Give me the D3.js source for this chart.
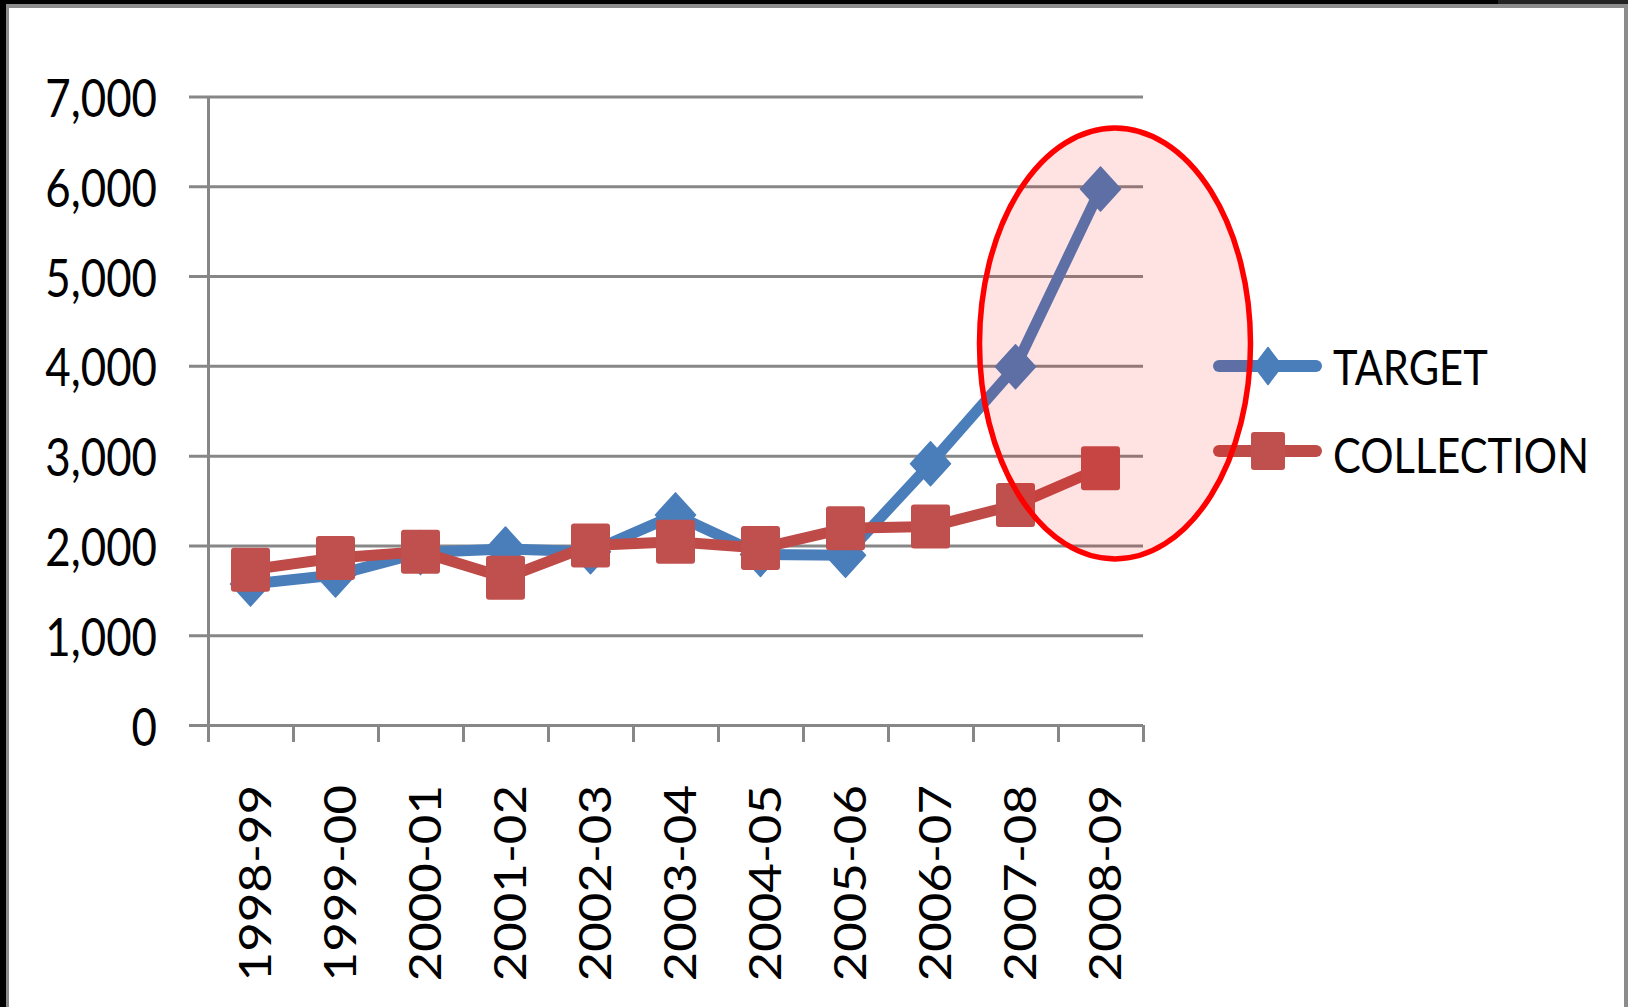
<!DOCTYPE html>
<html>
<head>
<meta charset="utf-8">
<script src="https://cdn.jsdelivr.net/npm/d3@7"></script>
<style>
  html, body { margin: 0; padding: 0; background: #000; }
  svg { display: block; }
  text { font-family: Lato, "Open Sans", sans-serif; fill: #000; }
</style>
</head>
<body>
<svg id="chart" width="1628" height="1007"></svg>
<script>
// Fiscal years on the category axis
const categories = ["1998-99", "1999-00", "2000-01", "2001-02", "2002-03", "2003-04",
                    "2004-05", "2005-06", "2006-07", "2007-08", "2008-09"];
// Series values
const target     = [1570, 1670, 1920, 1960, 1930, 2340, 1900, 1890, 2910, 3990, 5970];
const collection = [1730, 1860, 1930, 1640, 2000, 2040, 1970, 2190, 2210, 2450, 2860];
// Value axis ticks
const yTicks = [0, 1000, 2000, 3000, 4000, 5000, 6000, 7000];
const seriesNames = ["TARGET", "COLLECTION"];

const W = 1628, H = 1007;
const plot = { left: 208, right: 1143, top: 96.5, bottom: 725 };
const gridColor = "#878787";
const blue = "#4A7EBB", red = "#BE4B48";
const squish = 0.85; // horizontal text compression

const svg = d3.select("#chart");

// Frame: dark edges with a grey rule, white page
svg.append("rect").attr("x", 0).attr("y", 0).attr("width", W).attr("height", H).attr("fill", "#000");
svg.append("rect").attr("x", 1498).attr("y", 0).attr("width", W - 1498).attr("height", 5).attr("fill", "#232323");
svg.append("rect").attr("x", 6).attr("y", 4).attr("width", W - 6).attr("height", H - 4).attr("fill", "#8c8c8c");
svg.append("rect").attr("x", 9).attr("y", 8).attr("width", 1624 - 9).attr("height", H - 8).attr("fill", "#fff");

// Scales
const x = d3.scaleBand().domain(categories).range([plot.left, plot.right]).padding(0);
const xEdge = d3.scaleLinear().domain([0, categories.length]).range([plot.left, plot.right]);
const y = d3.scaleLinear().domain([0, 7000]).range([plot.bottom, plot.top]);
const xc = d => x(d) + x.bandwidth() / 2;

// Horizontal gridlines (extend slightly left of the value axis)
const gridG = svg.append("g").attr("transform", `translate(${plot.left - 19},0)`)
  .call(d3.axisRight(y).tickValues(yTicks).tickSize(plot.right - plot.left + 19).tickFormat(""));
gridG.select(".domain").remove();
gridG.selectAll("line").attr("stroke", gridColor).attr("stroke-width", 3);

// Value axis with labels
const yAxisG = svg.append("g").attr("transform", `translate(${plot.left},0)`)
  .call(d3.axisLeft(y).tickValues(yTicks).tickSize(0).tickSizeOuter(0).tickFormat(d3.format(",")));
yAxisG.select(".domain").attr("stroke", gridColor).attr("stroke-width", 3);
yAxisG.selectAll("text")
  .attr("x", 0).attr("dy", null).attr("y", 0)
  .attr("font-size", 51.6)
  .attr("font-family", "Lato")
  .attr("transform", `translate(-51,20) scale(${squish},1)`);

// Category boundary ticks
const tickG = svg.append("g").attr("transform", `translate(0,${plot.bottom})`)
  .call(d3.axisBottom(xEdge).tickValues(d3.range(categories.length + 1)).tickSize(17).tickSizeOuter(0).tickFormat(""));
tickG.select(".domain").remove();
tickG.selectAll("line").attr("stroke", gridColor).attr("stroke-width", 3);

// Rotated category labels
const xAxisG = svg.append("g").attr("transform", `translate(0,${plot.bottom})`)
  .call(d3.axisBottom(x).tickSize(0).tickPadding(0));
xAxisG.select(".domain").remove();
xAxisG.selectAll("text")
  .attr("y", 0).attr("x", 0).attr("dy", null)
  .attr("text-anchor", "end")
  .attr("font-size", 51)
  .attr("font-family", "Lato")
  .attr("transform", "translate(20,60) rotate(-90) scale(1,0.87)");

// Marker shapes
function diamondPath(hw, hh) {
  return `M0,${-hh}L${hw},0L0,${hh}L${-hw},0Z`;
}
function drawDiamond(g, cx, cy, hw, hh, color) {
  g.append("path").attr("d", diamondPath(hw, hh))
    .attr("transform", `translate(${cx},${cy})`)
    .attr("fill", color).attr("stroke", color).attr("stroke-width", 1.5).attr("stroke-linejoin", "round");
}
function drawSquare(g, cx, cy, w, h, color) {
  g.append("rect").attr("x", cx - w / 2).attr("y", cy - h / 2).attr("width", w).attr("height", h)
    .attr("rx", 3).attr("fill", color);
}

const line = d3.line().x(d => xc(d.cat)).y(d => y(d.v));
const seriesData = [
  { name: seriesNames[0], color: blue, marker: "diamond", values: categories.map((c, i) => ({ cat: c, v: target[i] })) },
  { name: seriesNames[1], color: red, marker: "square", values: categories.map((c, i) => ({ cat: c, v: collection[i] })) }
];

const plotG = svg.append("g");
seriesData.forEach(s => {
  const g = plotG.append("g");
  g.append("path").datum(s.values).attr("d", line)
    .attr("fill", "none").attr("stroke", s.color).attr("stroke-width", 11)
    .attr("stroke-linejoin", "round").attr("stroke-linecap", "round");
  s.values.forEach(d => {
    if (s.marker === "diamond") drawDiamond(g, xc(d.cat), y(d.v), 20, 22, s.color);
    else drawSquare(g, xc(d.cat), y(d.v), 39, 44, "#C0504D");
  });
});

// Legend
const legendG = svg.append("g");
const legendRows = [
  { name: seriesNames[0], color: blue, marker: "diamond", ly: 366, ty: 385 },
  { name: seriesNames[1], color: red, marker: "square", ly: 451, ty: 473 }
];
legendRows.forEach(r => {
  legendG.append("line").attr("x1", 1219).attr("x2", 1316).attr("y1", r.ly).attr("y2", r.ly)
    .attr("stroke", r.color).attr("stroke-width", 12).attr("stroke-linecap", "round");
  if (r.marker === "diamond") drawDiamond(legendG, 1268, r.ly, 14, 18.5, r.color);
  else drawSquare(legendG, 1268, r.ly, 34, 38, "#C0504D");
  legendG.append("text").text(r.name)
    .attr("font-size", 49).attr("font-family", "Lato")
    .attr("transform", `translate(1333,${r.ty}) scale(${squish},1)`);
});

// Highlight around the last two years
const hl = { cx: xc("2008-09") + 14.5, cy: y(4250), rx: 135.5, ry: y(0) - y(2400) };
svg.append("ellipse")
  .attr("cx", hl.cx).attr("cy", hl.cy).attr("rx", hl.rx).attr("ry", hl.ry)
  .attr("fill", "rgba(255,0,0,0.115)")
  .attr("stroke", "#FF0000").attr("stroke-width", 5.5);
</script>
</body>
</html>
